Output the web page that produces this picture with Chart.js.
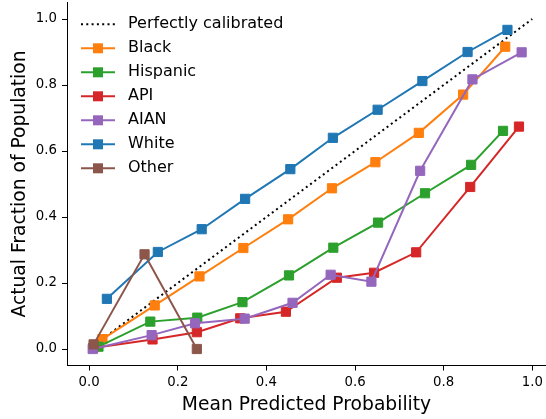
<!DOCTYPE html>
<html>
<head>
<meta charset="utf-8">
<script src="https://cdn.jsdelivr.net/npm/chart.js@4/dist/chart.umd.min.js"></script>
<style>
	body { margin: 0; background: #fff; }
	#calibChart { display: block; }
</style>
</head>
<body>
<canvas id="calibChart" width="546" height="419"></canvas>
<script>
// values
var perfectX = [0, 1];
var perfectY = [0, 1];

var blackX = [0.030, 0.148, 0.249, 0.348, 0.449, 0.548, 0.646, 0.744, 0.844, 0.939];
var blackY = [0.030, 0.132, 0.220, 0.306, 0.393, 0.487, 0.566, 0.655, 0.771, 0.916];

var hispanicX = [0.021, 0.138, 0.244, 0.346, 0.451, 0.551, 0.652, 0.758, 0.862, 0.934];
var hispanicY = [0.007, 0.083, 0.095, 0.142, 0.223, 0.307, 0.383, 0.472, 0.558, 0.661];

var apiX = [0.009, 0.143, 0.243, 0.341, 0.444, 0.559, 0.643, 0.738, 0.860, 0.970];
var apiY = [0.003, 0.029, 0.051, 0.093, 0.113, 0.216, 0.231, 0.293, 0.491, 0.674];

var aianX = [0.008, 0.141, 0.239, 0.351, 0.459, 0.545, 0.637, 0.747, 0.865, 0.976];
var aianY = [0.000, 0.042, 0.078, 0.092, 0.140, 0.225, 0.204, 0.540, 0.817, 0.899];

var whiteX = [0.040, 0.155, 0.254, 0.352, 0.454, 0.550, 0.651, 0.752, 0.854, 0.944];
var whiteY = [0.152, 0.294, 0.363, 0.455, 0.545, 0.640, 0.725, 0.812, 0.900, 0.967];

var otherX = [0.010, 0.125, 0.243];
var otherY = [0.014, 0.287, 0.000];

var xTicks = [0, 0.2, 0.4, 0.6, 0.8, 1.0];
var yTicks = [0, 0.2, 0.4, 0.6, 0.8, 1.0];

var fontFamily = "'DejaVu Sans', sans-serif";

function toPoints(xs, ys) {
	var pts = [];
	for (var i = 0; i < xs.length; i++) {
		pts.push({ x: xs[i], y: ys[i] });
	}
	return pts;
}

function series(label, color, xs, ys, order) {
	return {
		label: label,
		data: toPoints(xs, ys),
		showLine: true,
		borderColor: color,
		backgroundColor: color,
		borderWidth: 2,
		pointStyle: 'rect',
		pointRadius: 6.5,
		pointBorderWidth: 1,
		pointBorderColor: color,
		pointBackgroundColor: color,
		order: order
	};
}

var datasets = [
	{
		label: "Perfectly calibrated",
		data: toPoints(perfectX, perfectY),
		showLine: true,
		borderColor: "#000",
		borderWidth: 2,
		borderDash: [2, 3.3],
		pointRadius: 0,
		order: 7
	},
	series("Black", "#ff7f0e", blackX, blackY, 6),
	series("Hispanic", "#2ca02c", hispanicX, hispanicY, 5),
	series("API", "#d62728", apiX, apiY, 4),
	series("AIAN", "#9467bd", aianX, aianY, 3),
	series("White", "#1f77b4", whiteX, whiteY, 2),
	series("Other", "#8c564b", otherX, otherY, 1)
];

// matplotlib-like legend drawn inside the plot, top left
var insideLegend = {
	id: 'insideLegend',
	afterDraw: function(chart) {
		var ctx = chart.ctx;
		var sets = chart.data.datasets;
		var x0 = 81, x1 = 115, textX = 128, rowY = 24.3, step = 24;
		ctx.save();
		ctx.font = "16px " + fontFamily;
		ctx.textBaseline = 'middle';
		ctx.textAlign = 'left';
		for (var i = 0; i < sets.length; i++) {
			var d = sets[i];
			var y = rowY + i * step;
			ctx.strokeStyle = d.borderColor;
			ctx.lineWidth = d.borderWidth;
			ctx.setLineDash(d.borderDash || []);
			ctx.beginPath();
			ctx.moveTo(x0, y);
			ctx.lineTo(x1, y);
			ctx.stroke();
			ctx.setLineDash([]);
			if (d.pointRadius > 0) {
				var s = 10;
				ctx.fillStyle = d.pointBackgroundColor;
				ctx.fillRect((x0 + x1) / 2 - s / 2, y - s / 2, s, s);
			}
			ctx.fillStyle = "#000";
			ctx.fillText(d.label, textX, y);
		}
		ctx.restore();
	}
};

function noPadding(scale) {
	scale.paddingLeft = 0;
	scale.paddingRight = 0;
	scale.paddingTop = 0;
	scale.paddingBottom = 0;
}

var calibCtx = document.getElementById("calibChart").getContext("2d");
new Chart(calibCtx, {
	type: 'scatter',
	data: { datasets: datasets },
	plugins: [insideLegend],
	options: {
		responsive: false,
		animation: false,
		events: [],
		layout: { autoPadding: false, padding: { top: 2.5, right: 0, left: 0, bottom: 0 } },
		plugins: {
			legend: { display: false },
			tooltip: { enabled: false }
		},
		scales: {
			x: {
				type: 'linear',
				min: -0.05,
				max: 1.031,
				afterBuildTicks: function(scale) {
					scale.ticks = xTicks.map(function(v) { return { value: v }; });
				},
				afterFit: function(scale) { scale.height = 53.5; noPadding(scale); },
				grid: { display: true, drawOnChartArea: false, drawTicks: true, tickLength: 5, color: "#000", lineWidth: 1 },
				border: { display: true, color: "#000", width: 1 },
				ticks: {
					color: "#000",
					padding: 4,
					maxRotation: 0,
					font: { family: fontFamily, size: 13.3 },
					callback: function(v) { return Number(v).toFixed(1); }
				},
				title: {
					display: true,
					text: "Mean Predicted Probability",
					color: "#000",
					font: { family: fontFamily, size: 18.7 },
					padding: { top: 0, bottom: 3 }
				}
			},
			y: {
				type: 'linear',
				min: -0.05,
				max: 1.05,
				afterBuildTicks: function(scale) {
					scale.ticks = yTicks.map(function(v) { return { value: v }; });
				},
				afterFit: function(scale) { scale.width = 67; noPadding(scale); },
				grid: { display: true, drawOnChartArea: false, drawTicks: true, tickLength: 5, color: "#000", lineWidth: 1 },
				border: { display: true, color: "#000", width: 1 },
				ticks: {
					color: "#000",
					padding: 5,
					font: { family: fontFamily, size: 13.3 },
					callback: function(v) { return Number(v).toFixed(1); }
				},
				title: {
					display: true,
					text: "Actual Fraction of Population",
					color: "#000",
					font: { family: fontFamily, size: 18.7 },
					padding: { top: 9, bottom: 0 }
				}
			}
		}
	}
});
</script>
</body>
</html>
